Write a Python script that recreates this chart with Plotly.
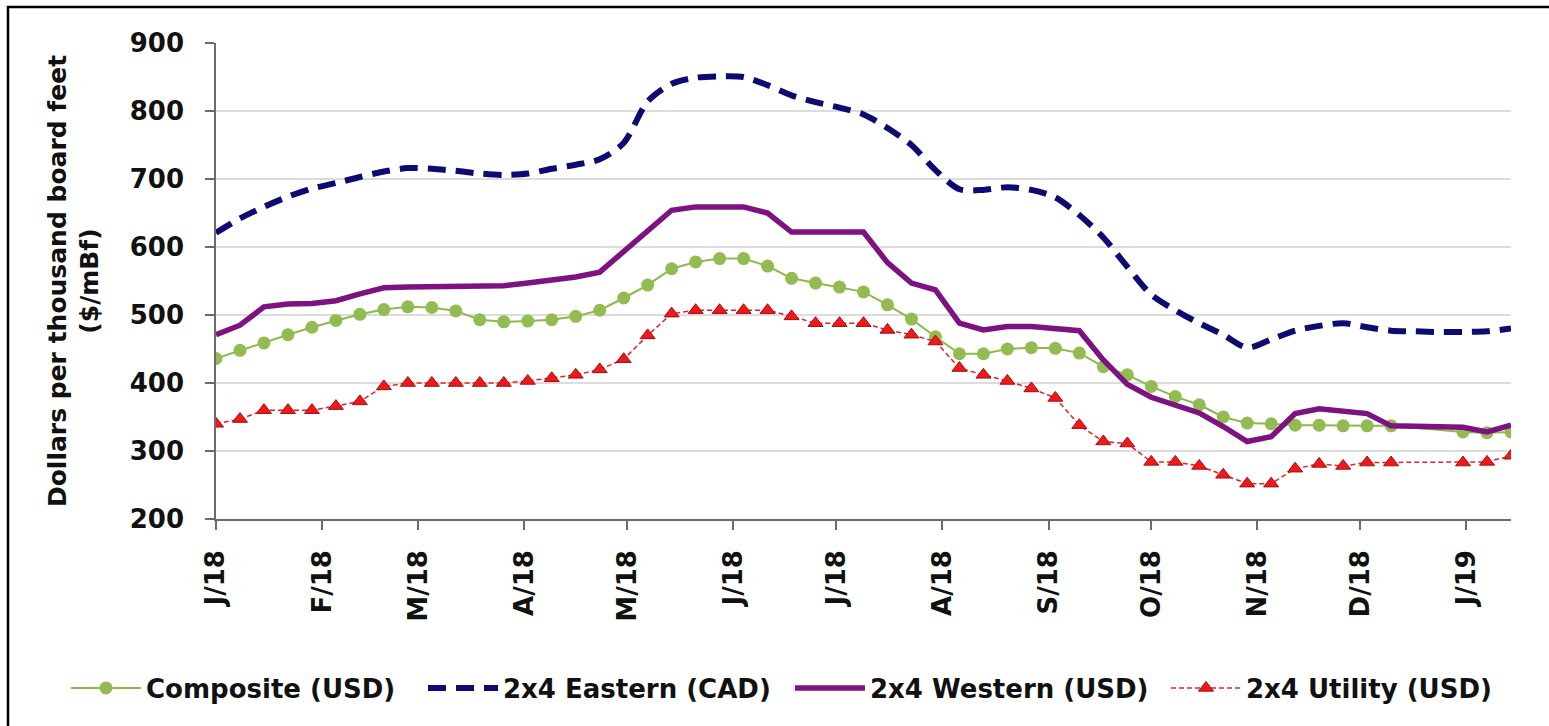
import plotly.graph_objects as go

dates = [
    "2018-01-05", "2018-01-12", "2018-01-19", "2018-01-26",
    "2018-02-02", "2018-02-09", "2018-02-16", "2018-02-23",
    "2018-03-02", "2018-03-09", "2018-03-16", "2018-03-23", "2018-03-30",
    "2018-04-06", "2018-04-13", "2018-04-20", "2018-04-27",
    "2018-05-04", "2018-05-11", "2018-05-18", "2018-05-25",
    "2018-06-01", "2018-06-08", "2018-06-15", "2018-06-22", "2018-06-29",
    "2018-07-06", "2018-07-13", "2018-07-20", "2018-07-27",
    "2018-08-03", "2018-08-10", "2018-08-17", "2018-08-24", "2018-08-31",
    "2018-09-07", "2018-09-14", "2018-09-21", "2018-09-28",
    "2018-10-05", "2018-10-12", "2018-10-19", "2018-10-26",
    "2018-11-02", "2018-11-09", "2018-11-16", "2018-11-23", "2018-11-30",
    "2018-12-07", "2018-12-14", "2018-12-21", "2018-12-28",
    "2019-01-04", "2019-01-11", "2019-01-18",
]

composite = [436, 448, 459, 471, 482, 492, 501, 508, 512, 511,
             506, 493, 490, 491, 493, 498, 507, 525, 544, 568,
             578, 583, 583, 572, 554, 547, 541, 534, 515, 494,
             468, 443, 443, 450, 452, 451, 444, 424, 412, 395,
             380, 368, 350, 341, 340, 338, 338, 337, 337, 337,
             None, None, 328, 327, 328]

eastern = [621, 642, 659, 674, 686, 694, 703, 711, 716, 715,
           712, 708, 706, 708, 715, 721, 729, 753, 814, 840,
           849, 851, 850, 838, 823, 813, 805, 795, 775, 750,
           713, 685, 684, 688, 684, 673, 647, 614, 571, 530,
           507, 488, 471, 452, 464, 477, 484, 488, 482, 477,
           476, 475, 475, 476, 480]

western = [471, 485, 512, 516, 517, 521, 531, 540, 541, 541,
           541, 541, 543, 547, 551, 556, 563, 594, 625, 654,
           659, 660, 659, 650, 622, 622, 622, 622, 577, 547,
           537, 488, 478, 483, 483, 481, 477, 434, 398, 379,
           367, 356, 336, 314, 321, 355, 362, 358, 355, 337,
           336, 336, 335, 328, 338]

utility = [340, 347, 360, 360, 360, 366, 373, 395, 400, 400,
           400, 400, 400, 403, 407, 412, 420, 435, 470, 502,
           507, 507, 507, 507, 498, 488, 488, 488, 478, 471,
           461, 422, 412, 403, 392, 378, 338, 314, 311, 284,
           284, 278, 265, 252, 252, 274, 281, 278, 283, 283,
           None, None, 283, 284, 293]

tick_dates = ["2018-01-05", "2018-02-05", "2018-03-05", "2018-04-05",
              "2018-05-05", "2018-06-05", "2018-07-05", "2018-08-05",
              "2018-09-05", "2018-10-05", "2018-11-05", "2018-12-05",
              "2019-01-05"]
tick_labels = ["J/18", "F/18", "M/18", "A/18", "M/18", "J/18", "J/18",
               "A/18", "S/18", "O/18", "N/18", "D/18", "J/19"]

series_names = ["Composite (USD)", "2x4 Eastern (CAD)",
                "2x4 Western (USD)", "2x4 Utility (USD)"]

fig = go.Figure()

fig.add_trace(go.Scatter(
    x=dates, y=composite, name=series_names[0], mode="lines+markers",
    connectgaps=True, legendwidth=272,
    line=dict(color="#8DB94A", width=2),
    marker=dict(symbol="circle", size=13, color="#92BC52",
                line=dict(width=0)),
))
fig.add_trace(go.Scatter(
    x=dates, y=eastern, name=series_names[1], mode="lines",
    legendwidth=282,
    line=dict(color="#0B0B72", width=6, dash="18px,10px",
              shape="spline", smoothing=0.8),
))
fig.add_trace(go.Scatter(
    x=dates, y=western, name=series_names[2], mode="lines",
    legendwidth=291,
    line=dict(color="#7D1280", width=5.5),
))
fig.add_trace(go.Scatter(
    x=dates, y=utility, name=series_names[3], mode="lines+markers",
    connectgaps=True, legendwidth=270,
    line=dict(color="#E8202A", width=1.5, dash="5px,3px"),
    marker=dict(symbol="triangle-up", size=13, color="#F01818",
                line=dict(width=1, color="#A01010")),
))

W, H = 1549, 726
L, R, T, B = 216, 38, 43, 207
pw = W - L - R
ph = H - T - B


def px_x(p):
    return (p - L) / pw


def px_y(p):
    return (H - B - p) / ph


fig.update_layout(
    width=W, height=H,
    margin=dict(l=L, r=R, t=T, b=B, autoexpand=False),
    paper_bgcolor="white", plot_bgcolor="white",
    font=dict(family="DejaVu Sans", size=26, color="#111111", weight="bold"),
    showlegend=True,
    legend=dict(
        orientation="h", x=px_x(66), xanchor="left",
        y=px_y(688), yanchor="middle",
        itemwidth=70, font=dict(size=26),
        bgcolor="rgba(0,0,0,0)",
    ),
    xaxis=dict(
        type="date", range=["2018-01-05", "2019-01-18"],
        tickmode="array", tickvals=tick_dates, ticktext=tick_labels,
        tickangle=-90, ticks="outside", ticklen=9, tickwidth=1.5,
        tickcolor="#6b6b6b", showline=True, linecolor="#6b6b6b",
        linewidth=1.5, showgrid=False, zeroline=False,
        ticklabelstandoff=10, tickfont=dict(size=26),
    ),
    yaxis=dict(
        range=[200, 900], tickmode="linear", tick0=200, dtick=100,
        ticks="outside", ticklen=9, tickwidth=1.5, tickcolor="#6b6b6b",
        showline=True, linecolor="#6b6b6b", linewidth=1.5,
        showgrid=True, gridcolor="#dcdcdc", gridwidth=2, zeroline=False,
        ticklabelstandoff=16, tickfont=dict(size=26),
        title=dict(text="Dollars per thousand board feet<br>($/mBf)",
                   font=dict(size=25), standoff=24),
    ),
    shapes=[dict(
        type="rect", xref="paper", yref="paper",
        x0=px_x(8), x1=px_x(1565), y0=px_y(745), y1=px_y(7),
        line=dict(color="black", width=2.5), fillcolor="rgba(0,0,0,0)",
        layer="above",
    )],
)

fig.write_html(
    "out.html",
    config={"displayModeBar": False},
    post_script="document.body.style.margin='0';"
                "document.body.style.overflow='hidden';",
)
